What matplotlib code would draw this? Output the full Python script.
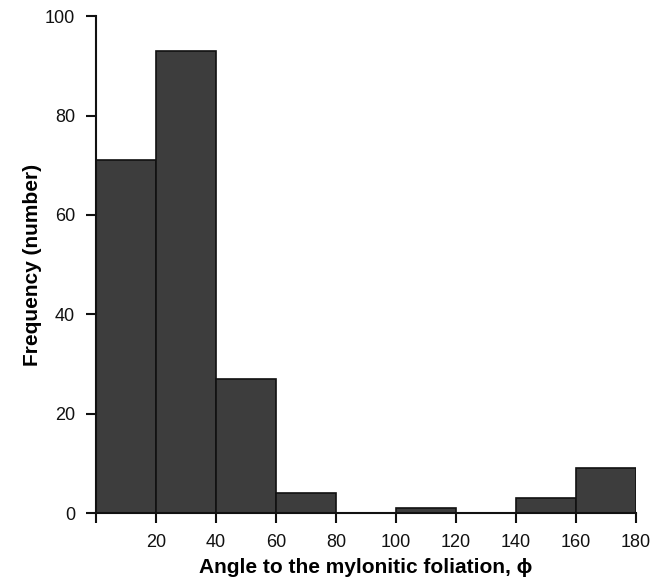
import matplotlib
matplotlib.use("Agg")
import matplotlib.pyplot as plt

bin_edges = [0, 20, 40, 60, 80, 100, 120, 140, 160, 180]
counts = [71, 93, 27, 4, 0, 1, 0, 3, 9]
xticks = [0, 20, 40, 60, 80, 100, 120, 140, 160, 180]
xticklabels = ["", "20", "40", "60", "80", "100", "120", "140", "160", "180"]
yticks = [0, 20, 40, 60, 80, 100]

plt.rcParams['font.family'] = ['Liberation Sans', 'DejaVu Sans']

fig = plt.figure(figsize=(6.66, 5.81), dpi=100)
ax = fig.add_axes([0.144, 0.117, 0.811, 0.855])

lefts = bin_edges[:-1]
widths = [b - a for a, b in zip(bin_edges[:-1], bin_edges[1:])]
ax.bar(lefts, counts, width=widths, align='edge', color='#3d3d3d',
       edgecolor='#111111', linewidth=1.2)

ax.set_xlim(0, 180)
ax.set_ylim(0, 100)
ax.set_xticks(xticks)
ax.set_xticklabels(xticklabels)
ax.set_yticks(yticks)

for s in ['top', 'right']:
    ax.spines[s].set_visible(False)
for s in ['left', 'bottom']:
    ax.spines[s].set_linewidth(1.5)
    ax.spines[s].set_color('#111111')

ax.tick_params(axis='both', direction='out', length=7, width=1.5,
               labelsize=13, colors='#111111', pad=8)

ax.set_xlabel("Angle to the mylonitic foliation, ϕ", fontsize=15,
              fontweight='bold', labelpad=5)
ax.set_ylabel("Frequency (number)", fontsize=15, fontweight='bold',
              labelpad=2)

fig.savefig("out.png", dpi=100)
